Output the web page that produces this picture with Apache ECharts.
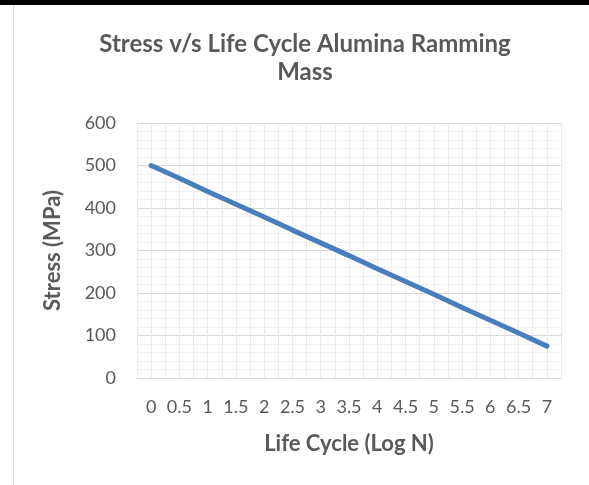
<!DOCTYPE html>
<html>
<head>
<meta charset="utf-8">
<style>
  html, body { margin: 0; padding: 0; background: #fff; }
  #chart { width: 589px; height: 485px; }
</style>
<script src="https://cdn.jsdelivr.net/npm/echarts@6/dist/echarts.min.js"></script>
</head>
<body>
<div id="chart"></div>
<script>
  // data
  var lifeCycle = ['0', '0.5', '1', '1.5', '2', '2.5', '3', '3.5', '4', '4.5', '5', '5.5', '6', '6.5', '7']
  var stress = [500, 470, 439, 409, 379, 348, 318, 288, 257, 227, 197, 166, 136, 106, 75]
  var yTicks = { min: 0, max: 600, step: 100 }

  var chart = echarts.init(document.getElementById('chart'))
  var gray = '#595959'
  var font = 'Lato, Calibri, sans-serif'

  var option = {
    backgroundColor: '#fff',
    textStyle: { fontFamily: font },
    title: {
      text: 'Stress v/s Life Cycle Alumina Ramming\nMass',
      left: 300,
      textAlign: 'center',
      top: 25,
      textStyle: {
        fontFamily: font,
        fontSize: 24,
        fontWeight: 'bold',
        color: gray,
        lineHeight: 28
      }
    },
    graphic: [
      { type: 'rect', shape: { x: 0, y: 0, width: 589, height: 5 }, style: { fill: '#000' } },
      { type: 'line', shape: { x1: 13.5, y1: 5, x2: 13.5, y2: 485 }, style: { stroke: '#d9d9d9', lineWidth: 1 } }
    ],
    grid: {
      left: 137,
      right: 28,
      top: 123,
      bottom: 107
    },
    xAxis: [{
      type: 'category',
      data: lifeCycle,
      boundaryGap: true,
      name: 'Life Cycle (Log N)',
      nameLocation: 'middle',
      nameGap: 55,
      nameTextStyle: { fontFamily: font, fontSize: 22, fontWeight: 'bold', color: gray },
      axisLine: { lineStyle: { color: '#d9d9d9' } },
      axisTick: { show: false },
      axisLabel: { color: gray, fontSize: 18, margin: 20, interval: 0, fontFamily: font },
      splitLine: { show: false }
    }, {
      // helper axis only for the half-category vertical gridlines
      type: 'value',
      min: -0.25,
      max: 7.25,
      interval: 0.25,
      position: 'bottom',
      axisLine: { show: false },
      axisTick: { show: false },
      axisLabel: { show: false },
      splitLine: { show: true, lineStyle: { color: '#ebebeb', width: 1 } }
    }],
    yAxis: {
      type: 'value',
      min: yTicks.min,
      max: yTicks.max,
      interval: yTicks.step,
      name: 'Stress (MPa)',
      nameLocation: 'middle',
      nameGap: 73,
      nameTextStyle: { fontFamily: font, fontSize: 22, fontWeight: 'bold', color: gray },
      axisLine: { show: false },
      axisTick: { show: false },
      axisLabel: { color: gray, fontSize: 18, margin: 21, fontFamily: font },
      splitLine: { show: true, lineStyle: { color: '#d9d9d9' } },
      minorTick: { show: false, splitNumber: 5 },
      minorSplitLine: { show: true, lineStyle: { color: '#f0f0f0' } }
    },
    series: [{
      type: 'line',
      xAxisIndex: 0,
      data: stress,
      symbol: 'none',
      lineStyle: { color: '#4a7ebb', width: 5, cap: 'round' },
      z: 5
    }]
  }
  chart.setOption(option)
</script>
</body>
</html>
